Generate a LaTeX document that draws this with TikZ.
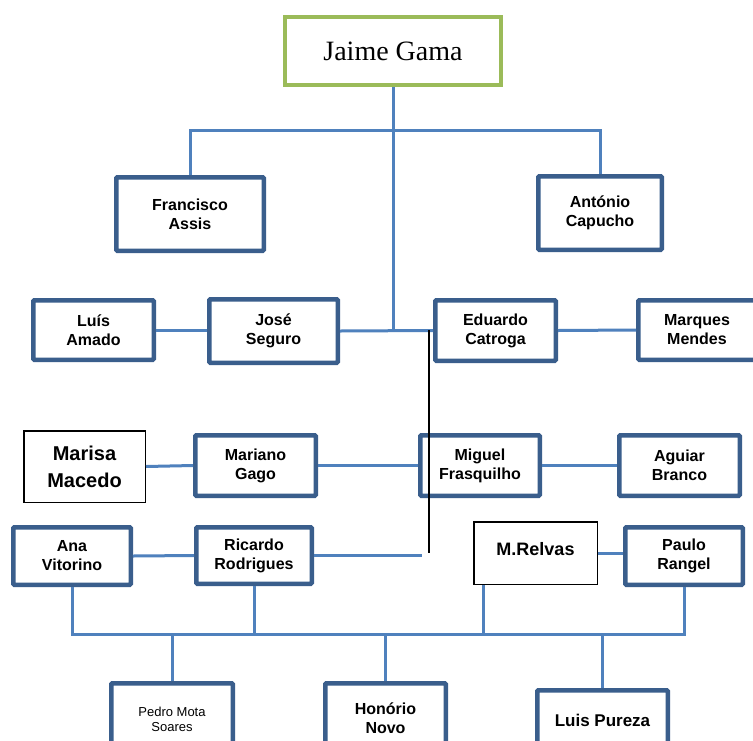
\documentclass[tikz,border=0pt]{standalone}
\usepackage{fontspec}
\setmainfont{Liberation Sans}
\newfontfamily\jgserif{Liberation Serif}
\definecolor{boxblue}{RGB}{58,94,140}
\definecolor{linkblue}{RGB}{79,129,189}
\definecolor{jggreen}{RGB}{155,187,89}
\tikzset{
  bbox/.style={draw=boxblue, line width=4.5pt, fill=white, inner sep=0pt, align=center,
    font=\bfseries\fontsize{16}{19}\selectfont, rounded corners=1pt},
  kbox/.style={draw=black, line width=1.5pt, fill=white, inner sep=0pt, align=center,
    font=\bfseries\fontsize{20}{27}\selectfont},
  conn/.style={draw=linkblue, line width=3pt},
  blackline/.style={draw=black, line width=1.8pt},
}
\begin{document}
\begin{tikzpicture}[x=1pt,y=-1pt]
\fill[white] (0,0) rectangle (753,740);
\useasboundingbox (0,0) rectangle (753,740);

% top
\node[draw=jggreen, line width=4pt, fill=white, minimum width=216pt, minimum height=68pt, inner sep=0pt,
  font=\jgserif\fontsize{28}{32}\selectfont] (jg) at (393,51) {Jaime Gama};

\node[bbox, minimum width=147.5pt, minimum height=73.5pt] (fa) at (190,214) {Francisco\\Assis};
\node[bbox, minimum width=123.5pt, minimum height=73.5pt] (ac) at (600,213) {António\\Capucho};

\node[bbox, minimum width=120.5pt, minimum height=59.5pt] (la) at (93.5,330) {Luís\\Amado};
\node[bbox, minimum width=128.5pt, minimum height=63.5pt] (js) at (273.5,331) {José\\Seguro};
\node[bbox, minimum width=120.5pt, minimum height=60.5pt] (ec) at (495.5,330.5) {Eduardo\\Catroga};
\node[bbox, minimum width=117.5pt, minimum height=59.5pt] (mm) at (697,330) {Marques\\Mendes};

\node[kbox, minimum width=121.5pt, minimum height=71.5pt] (ma) at (84.5,466.5) {Marisa\\Macedo};
\node[bbox, minimum width=120.5pt, minimum height=60.5pt] (mg) at (255.5,465.5) {Mariano\\Gago};
\node[bbox, minimum width=119.5pt, minimum height=60.5pt] (mf) at (480,465.5) {Miguel\\Frasquilho};
\node[bbox, minimum width=120.5pt, minimum height=60.5pt] (ab) at (679.5,465.5) {Aguiar\\Branco};

\node[bbox, minimum width=117.5pt, minimum height=57.5pt] (av) at (72,556) {Ana\\Vitorino};
\node[bbox, minimum width=115.5pt, minimum height=56.5pt] (rr) at (254,555.5) {Ricardo\\Rodrigues};
\node[kbox, minimum width=123.5pt, minimum height=62.5pt, font=\bfseries\fontsize{18}{22}\selectfont] (mr) at (535.5,553) {\raisebox{8pt}{M.Relvas}};
\node[bbox, minimum width=117.5pt, minimum height=57.5pt] (pr) at (684,556) {Paulo\\Rangel};

\node[bbox, minimum width=121.5pt, minimum height=74.5pt, font=\fontsize{13}{15}\selectfont] (pm) at (172,720.5)
  {\raisebox{5.5pt}{\begin{tabular}{@{}c@{}}Pedro Mota\\Soares\end{tabular}}};
\node[bbox, minimum width=120.5pt, minimum height=74.5pt] (hn) at (385.5,720.5)
  {\raisebox{7.5pt}{\begin{tabular}{@{}c@{}}Honório\\Novo\end{tabular}}};
\node[bbox, minimum width=130.5pt, minimum height=67.5pt, font=\bfseries\fontsize{17}{20}\selectfont] (lp) at (602.5,724) {\raisebox{7pt}{Luis Pureza}};

% connectors
\coordinate (bus1) at (393,130);
\coordinate (bus2) at (380,634);
\coordinate (rend) at (422,555.5);
\coordinate (bt) at (429,330);
\coordinate (bb) at (429,553);
\coordinate (mrdrop) at (483,585);

\draw[conn] (jg.south) -- (jg.south |- js.east);
\draw[conn] (fa.north) |- (bus1) -| (ac.north);
\draw[conn] (la.east) -- (la.east -| js.west);
\draw[conn] (js.east) -- (ec.west);
\draw[conn] (ec.east) -- (mm.west);
\draw[conn] (ma.east) -- (mg.west);
\draw[conn] (mg.east) -- (mf.west);
\draw[conn] (mf.east) -- (ab.west);
\draw[conn] (av.east) -- (rr.west);
\draw[conn] (rr.east) -- (rend);
\draw[conn] (mr.east) -- (mr.east -| pr.west);
\draw[conn] (av.south) |- (bus2) -| (pr.south);
\draw[conn] (rr.south) -- (rr.south |- bus2);
\draw[conn] (mrdrop) -- (mrdrop |- bus2);
\draw[conn] (bus2 -| pm.north) -- (pm.north);
\draw[conn] (bus2 -| hn.north) -- (hn.north);
\draw[conn] (bus2 -| lp.north) -- (lp.north);
\draw[blackline] (bt) -- (bb);
\end{tikzpicture}
\end{document}
